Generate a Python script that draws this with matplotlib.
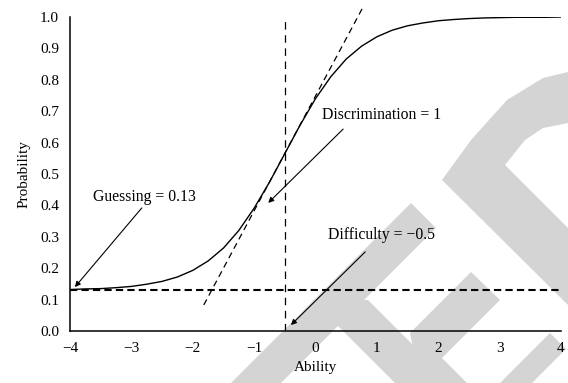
import matplotlib.pyplot as plt
from matplotlib.patches import Polygon
from matplotlib.transforms import Affine2D

# Item characteristic curve
ability = [-4.0, -3.75, -3.5, -3.25, -3.0, -2.75, -2.5, -2.25, -2.0, -1.75, -1.5,
           -1.25, -1.0, -0.75, -0.5, -0.25, 0.0, 0.25, 0.5, 0.75, 1.0, 1.25, 1.5,
           1.75, 2.0, 2.25, 2.5, 2.75, 3.0, 3.25, 3.5, 3.75, 4.0]
prob = [0.132, 0.134, 0.135, 0.138, 0.142, 0.149, 0.158, 0.172, 0.193, 0.223, 0.264,
        0.320, 0.391, 0.474, 0.565, 0.656, 0.740, 0.810, 0.866, 0.907, 0.937, 0.958, 0.972,
        0.981, 0.988, 0.992, 0.995, 0.997, 0.998, 0.999, 0.999, 0.999, 1.000]

guessing = 0.13
difficulty = -0.5
tangent_x = [-1.82, 0.77]
tangent_y = [0.083, 1.03]

xticks = [-4, -3, -2, -1, 0, 1, 2, 3, 4]
yticks = [0.0, 0.1, 0.2, 0.3, 0.4, 0.5, 0.6, 0.7, 0.8, 0.9, 1.0]

labels = ["Guessing = 0.13", "Discrimination = 1", "Difficulty = \u22120.5"]
label_xy = [(-2.78, 0.427), (1.08, 0.688), (1.07, 0.306)]
arrow_tail = [(-2.83, 0.392), (0.45, 0.643), (0.81, 0.252)]
arrow_head = [(-3.92, 0.140), (-0.77, 0.408), (-0.40, 0.019)]

plt.rcParams['font.family'] = ['Liberation Serif', 'DejaVu Serif']

fig = plt.figure(figsize=(5.68, 3.83), dpi=100)

# watermark shapes in pixel coordinates (behind everything)
px = Affine2D().scale(1 / 568, -1 / 383).translate(0, 1) + fig.transFigure
shapes = [
    [(231, 383), (411, 203), (436, 228), (281, 383)],
    [(312, 300), (368, 300), (451, 383), (395, 383)],
    [(410, 333), (471, 272), (500, 300), (442, 358), (467, 383), (420, 383)],
    [(500, 383), (550, 333), (566, 349), (532, 383)],
    [(442, 180), (471, 140), (507, 100), (543, 78), (568, 72), (568, 123),
     (543, 128), (525, 140), (505, 165), (568, 228), (568, 305)],
]
for s in shapes:
    fig.patches.append(Polygon(s, closed=True, transform=px, facecolor='#d4d4d4',
                               edgecolor='none', zorder=-10))

ax = fig.add_axes([70 / 568, 1 - 331 / 383, 491 / 568, 314 / 383])
ax.set_zorder(1)
ax.patch.set_alpha(0)

ax.plot(ability, prob, color='black', lw=1.0)
ax.plot(tangent_x, tangent_y, color='black', lw=0.9, linestyle=(0, (5, 3.5)), clip_on=False)
ax.plot([-4, 4], [guessing, guessing], color='black', lw=1.5, linestyle=(0, (3.5, 2)))
ax.plot([difficulty, difficulty], [0, 1], color='black', lw=0.9, linestyle=(0, (6, 4.5)))

for txt, pos, tail, head in zip(labels, label_xy, arrow_tail, arrow_head):
    ax.text(pos[0], pos[1], txt, ha='center', va='center', fontsize=11.3)
    ax.annotate('', xy=head, xytext=tail,
                arrowprops=dict(arrowstyle='-|>', color='black', lw=0.8,
                                mutation_scale=8, shrinkA=0, shrinkB=0))

ax.set_xlim(-4, 4)
ax.set_ylim(0, 1)
ax.set_xticks(xticks)
ax.set_yticks(yticks)
ax.set_yticklabels(["%.1f" % v for v in yticks])
ax.tick_params(length=0, labelsize=11, pad=8)
ax.spines['top'].set_visible(False)
ax.spines['right'].set_visible(False)
ax.spines['left'].set_linewidth(1.1)
ax.spines['bottom'].set_linewidth(1.1)
ax.set_xlabel("Ability", fontsize=11, labelpad=4)
ax.set_ylabel("Probability", fontsize=11, labelpad=7)

plt.savefig('out.png', dpi=100)
